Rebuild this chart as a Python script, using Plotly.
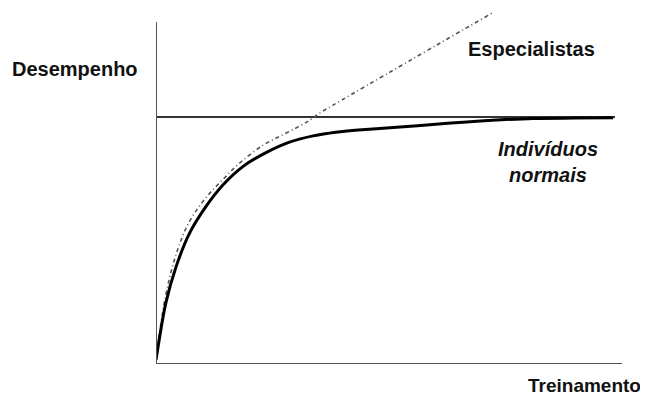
import plotly.graph_objects as go

# Data (training units vs performance units)
normal_x = [0, 2.1, 4.3, 7.1, 10.7, 14.4, 18.7, 23.6, 28.5, 33.7, 38.6, 45, 52.4, 60, 66.7, 74, 80.9, 90, 98.1]
normal_y = [1.2, 17.8, 28.4, 38.0, 46.0, 52.4, 57.8, 61.8, 64.8, 66.7, 67.8, 68.6, 69.3, 70.1, 70.8, 71.4, 71.8, 71.9, 72.0]

expert_x = [0, 2.0, 4.3, 7.1, 10.7, 14.4, 18.0, 23.0, 26.6, 30.3, 33.0, 34.8, 38.0, 72.1]
expert_y = [1.2, 19.5, 32.0, 41.5, 48.6, 54.0, 58.8, 64.0, 66.6, 69.2, 71.3, 73.1, 75.7, 102.6]

plateau_x = [0, 98.5]
plateau_y = [72.2, 72.2]

fig = go.Figure()
fig.add_trace(go.Scatter(x=plateau_x, y=plateau_y, mode="lines",
                         line=dict(color="#333333", width=2), hoverinfo="skip"))
fig.add_trace(go.Scatter(x=expert_x, y=expert_y, mode="lines",
                         line=dict(color="#555555", width=1.6, dash="4px,3px,1px,3px", shape="spline", smoothing=1.0),
                         hoverinfo="skip"))
fig.add_trace(go.Scatter(x=normal_x, y=normal_y, mode="lines",
                         line=dict(color="#000000", width=3, shape="spline", smoothing=0.8),
                         hoverinfo="skip"))

# axes drawn as lines
fig.add_shape(type="line", xref="x", yref="y", x0=0, x1=0, y0=0, y1=100,
              line=dict(color="#555555", width=2))
fig.add_shape(type="line", xref="x", yref="y", x0=0, x1=100, y0=0, y1=0,
              line=dict(color="#555555", width=2))

font = dict(family="Liberation Sans, Arial, sans-serif", size=20, color="#111111")
PW, PH = 466.0, 356.0  # plot area size in px
def px(x):  # figure-pixel x -> paper
    return (x - 148) / PW
def py(y):  # figure-pixel y -> paper
    return (356 - y) / PH

fig.add_annotation(text="<b>Desempenho</b>", xref="paper", yref="paper", x=px(67), y=py(61),
                   showarrow=False, font=font, xanchor="center", yanchor="middle")
fig.add_annotation(text="<b>Treinamento</b>", xref="paper", yref="paper", x=px(576), y=py(377),
                   showarrow=False, font=dict(family="Liberation Sans, Arial, sans-serif", size=19, color="#111111"),
                   xanchor="center", yanchor="middle")
fig.add_annotation(text="<b>Especialistas</b>", xref="paper", yref="paper", x=px(523), y=py(41),
                   showarrow=False, font=font, xanchor="center", yanchor="middle")
fig.add_annotation(text="<b><i>Indivíduos<br>normais</i></b>", xref="paper", yref="paper", x=px(540), y=py(154),
                   showarrow=False, font=font, xanchor="center", yanchor="middle", align="center")

fig.update_layout(
    width=640, height=389,
    margin=dict(l=148, r=26, t=0, b=33),
    paper_bgcolor="white", plot_bgcolor="white",
    showlegend=False,
    xaxis=dict(range=[0, 100], visible=False, fixedrange=True),
    yaxis=dict(range=[0, 104.1], visible=False, fixedrange=True),
)
fig.update_traces(cliponaxis=False)

fig.write_html("out.html")
